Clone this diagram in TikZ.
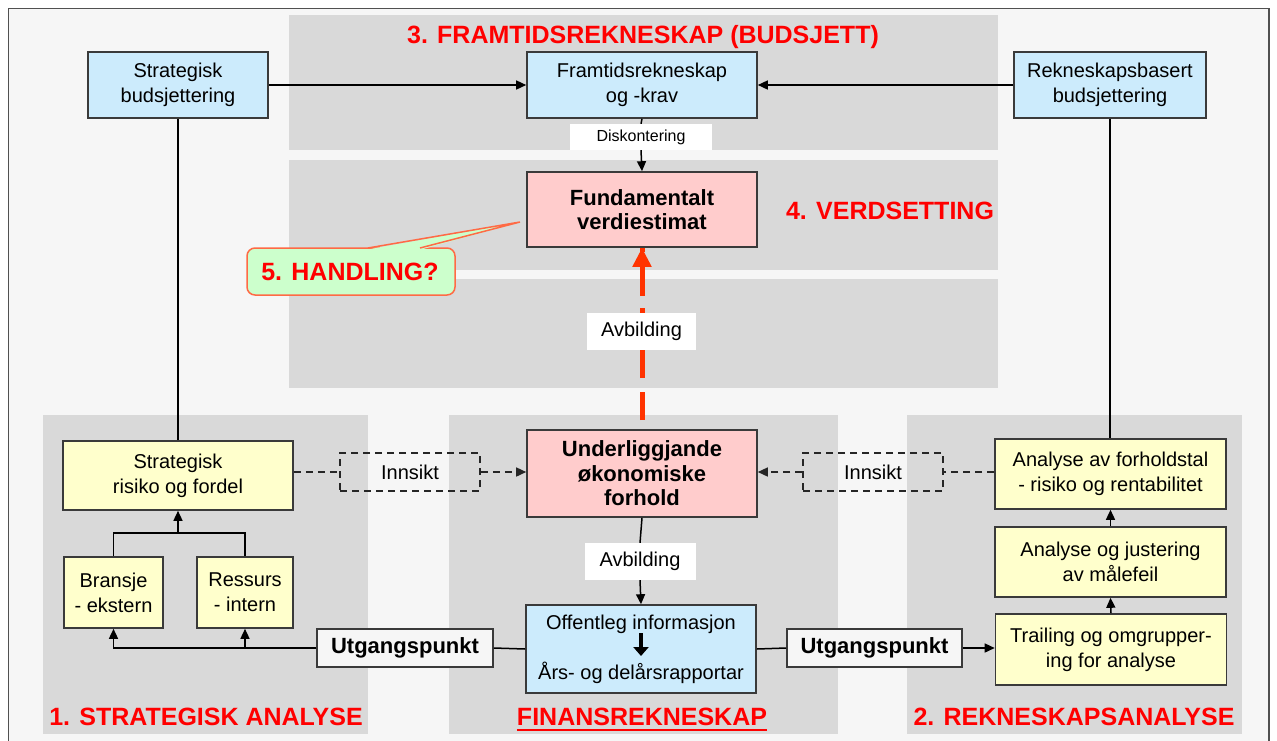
\documentclass[tikz,border=0pt]{standalone}
\usepackage{fontspec}
\setmainfont{Liberation Sans}
\usetikzlibrary{arrows.meta}
\definecolor{panel}{HTML}{D9D9D9}
\definecolor{framebg}{HTML}{F6F6F6}
\definecolor{framedraw}{HTML}{505050}
\definecolor{bluebox}{HTML}{CCEBFC}
\definecolor{yellowbox}{HTML}{FFFFCC}
\definecolor{pinkbox}{HTML}{FFCCCC}
\definecolor{greenbox}{HTML}{CCFFCC}
\definecolor{headred}{HTML}{FF0000}
\definecolor{arrowred}{HTML}{FF3300}
\definecolor{calloutline}{HTML}{FF6A45}
\definecolor{boxline}{HTML}{3A3A3A}
\begin{document}
\begin{tikzpicture}[x=1pt,y=-1pt,
  txt/.style={font=\fontsize{20}{25}\selectfont},
  box/.style={draw=boxline, line width=1.6pt, align=center, inner sep=0pt, txt},
  bbox/.style={box, fill=bluebox},
  ybox/.style={box, fill=yellowbox},
  pbox/.style={box, fill=pinkbox, font=\bfseries\fontsize{22}{24.5}\selectfont},
  ubox/.style={box, fill=framebg, font=\bfseries\fontsize{22}{25}\selectfont},
  ibox/.style={draw=black!85, line width=1.5pt, dash pattern=on 7pt off 5pt, inner sep=0pt, txt},
  wlabel/.style={fill=white, inner sep=0pt, align=center},
  head/.style={text=headred, font=\bfseries\fontsize{25}{30}\selectfont, inner sep=0pt},
  conn/.style={line width=1.5pt, draw=black},
  arr/.style={conn, -{Triangle[length=10pt,width=9pt]}},
  dconn/.style={line width=1.5pt, draw=black!85, dash pattern=on 7pt off 5pt},
  darr/.style={dconn, -{Triangle[length=10pt,width=9pt]}},
  redline/.style={line width=5pt, draw=arrowred, dash pattern=on 28pt off 14pt, dash phase=33pt},
  redtip/.style={line width=5pt, draw=arrowred, -{Triangle[length=19pt,width=18pt]}},
  glyph/.style={line width=4pt, -{Triangle[length=9pt,width=15pt]}}
]
\useasboundingbox (0,0) rectangle (1277,740);
\clip (0,0) rectangle (1277,740);
% frame
\draw[fill=framebg, draw=framedraw, line width=1.4pt] (8.5,8.5) rectangle (1269,770);
% panels
\fill[panel] (289,15) rectangle (998,150);
\fill[panel] (289,160) rectangle (998,270);
\fill[panel] (289,279) rectangle (998,388);
\fill[panel] (43,415) rectangle (368,734);
\fill[panel] (449,415) rectangle (838,734);
\fill[panel] (907,415) rectangle (1242,734);

% headings
\node[head] (h3) at (643,37) {3. FRAMTIDSREKNESKAP (BUDSJETT)};
\node[head] (h4) at (890,211) {4. VERDSETTING};
\node[head] (h1) at (206,717) {1. STRATEGISK ANALYSE};
\node[head] (hf) at (642,717) {FINANSREKNESKAP};
\node[head] (h2) at (1074,717) {2. REKNESKAPSANALYSE};
\draw[headred, line width=2pt] ([yshift=-4pt]hf.south west) -- ([yshift=-4pt]hf.south east);

% boxes
\node[bbox, minimum width=180pt, minimum height=66pt] (sb) at (178,85) {Strategisk\\budsjettering};
\node[bbox, minimum width=230pt, minimum height=66pt] (fr) at (642,85) {Framtidsrekneskap\\og -krav};
\node[bbox, minimum width=192pt, minimum height=66pt] (rb) at (1110,85) {Rekneskapsbasert\\budsjettering};
\node[pbox, minimum width=230pt, minimum height=75pt] (fund) at (642,209.5) {Fundamentalt\\verdiestimat};
\node[pbox, minimum width=230pt, minimum height=87pt] (und) at (642,473.5) {Underliggjande\\økonomiske\\forhold};
\node[ybox, minimum width=230pt, minimum height=69pt] (srf) at (178,475.5) {Strategisk\\risiko og fordel};
\node[ybox, minimum width=99pt, minimum height=71pt] (bra) at (113.5,592.5) {Bransje\\- ekstern};
\node[ybox, minimum width=96pt, minimum height=71pt] (res) at (245,592.5) {Ressurs\\- intern};
\node[ybox, minimum width=231pt, minimum height=70pt] (afr) at (1110.5,474) {Analyse av forholdstal\\- risiko og rentabilitet};
\node[ybox, minimum width=231pt, minimum height=70pt] (aoj) at (1110.5,562) {Analyse og justering\\av målefeil};
\node[ybox, minimum width=231pt, minimum height=71pt] (tro) at (1111,649.5) {Trailing og omgrupper-\\ing for analyse};
\node[bbox, minimum width=230pt, minimum height=88pt] (off) at (641,649) {Offentleg informasjon\\[25pt]Års- og delårsrapportar};
\draw[glyph] ([yshift=16pt]off.center) -- ([yshift=-7pt]off.center);
\node[ubox, minimum width=176pt, minimum height=38pt] (utgL) at (405,648) {Utgangspunkt};
\node[ubox, minimum width=175pt, minimum height=38pt] (utgR) at (874.5,648) {Utgangspunkt};
\node[ibox, minimum width=140pt, minimum height=38pt] (inL) at (410,472) {Innsikt};
\node[ibox, minimum width=140pt, minimum height=38pt] (inR) at (873,472) {Innsikt};
\node[wlabel, minimum width=142pt, minimum height=26pt, font=\fontsize{16}{18}\selectfont] (disk) at (641,137) {Diskontering};
\node[wlabel, minimum width=111pt, minimum height=37pt, txt] (avb2) at (640,561.5) {Avbilding};

% top connectors
\draw[arr] (sb.east) -- (fr.west);
\draw[arr] (rb.west) -- (fr.east);
\draw[conn] (fr.south) -- (disk.north);
\draw[arr] (disk.south) -- (fund.north);
\draw[conn] (sb.south) -- (srf.north);
\draw[conn] (rb.south) -- (afr.north -| rb.south);

% red dashed mapping arrow
\draw[redline] (und.north) -- (fund.south);
\draw[redtip] ([yshift=-48pt]fund.south) -- (fund.south);
\node[wlabel, minimum width=109pt, minimum height=37pt, txt] (avb1) at (641.5,331.5) {Avbilding};

% insight
\draw[dconn] (srf.east |- inL.west) -- (inL.west);
\draw[darr] (inL.east) -- (inL.east -| und.west);
\draw[dconn] (afr.west |- inR.east) -- (inR.east);
\draw[darr] (inR.west) -- (inR.west -| und.east);

% strategic tree
\coordinate (tj) at (178,533);
\draw[conn] (bra.north) |- (tj) -| (res.north);
\draw[arr] (tj) -- (srf.south);

% starting point left
\draw[conn] (off.west) -- (utgL.east);
\draw[arr] (utgL.west) -| (bra.south);
\draw[arr] (res.south |- utgL.west) -- (res.south);

% middle
\draw[conn] (und.south) -- (avb2.north);
\draw[arr] (avb2.south) -- (off.north);

% starting point right
\draw[conn] (off.east) -- (utgR.west);
\draw[arr] (utgR.east) -- (utgR.east -| tro.west);
\draw[arr] (tro.north) -- (aoj.south);
\draw[arr] (aoj.north) -- (afr.south);

% callout
\draw[fill=greenbox, draw=calloutline, line width=1.5pt, rounded corners=8pt] (247,248) rectangle (455,295);
\fill[greenbox] (367,249.6) -- (520,222) -- (421,249.6) -- cycle;
\draw[calloutline, line width=1.5pt, line join=miter] (368,248) -- (520,222) -- (420,248);
\node[head] (h5) at (350,272) {5. HANDLING?};
\end{tikzpicture}
\end{document}
